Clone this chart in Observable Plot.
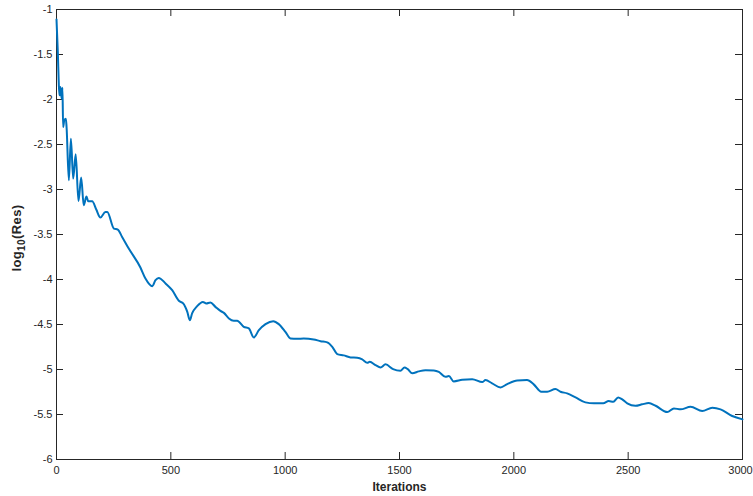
<!DOCTYPE html>
<html>
<head>
<meta charset="utf-8">
<script src="https://cdn.jsdelivr.net/npm/d3@7"></script>
<script src="https://cdn.jsdelivr.net/npm/@observablehq/plot@0.6"></script>
<style>
  html, body { margin: 0; padding: 0; background: #fff; }
  #chart svg { display: block; }
</style>
</head>
<body>
<div id="chart"></div>
<script>
// Residual history
const iterations = [0, 6, 10, 13, 17.5, 22, 26, 29, 34, 41, 44, 54, 63, 73, 84, 96, 108, 119, 131, 139, 156, 174, 192, 214, 222, 251, 268, 287, 316, 367, 389, 419, 433, 447, 477, 506, 535, 554, 572, 583, 593, 615, 640, 655, 673, 695, 717, 732, 754, 775, 790, 819, 841, 863, 885, 914, 948, 972, 1001, 1023, 1053, 1081, 1125, 1155, 1184, 1206, 1228, 1256, 1286, 1315, 1337, 1359, 1370, 1395, 1417, 1439, 1472, 1504, 1522, 1536, 1556, 1584, 1614, 1650, 1672, 1701, 1716, 1737, 1774, 1818, 1862, 1876, 1905, 1942, 1971, 2015, 2058, 2087, 2120, 2146, 2182, 2204, 2233, 2270, 2313, 2350, 2391, 2415, 2435, 2456, 2474, 2496, 2532, 2561, 2590, 2620, 2671, 2700, 2729, 2773, 2824, 2868, 2904, 2955, 3000];
const logRes = [-1.11, -1.49, -1.825, -1.954, -1.862, -1.988, -1.869, -2.306, -2.232, -2.213, -2.306, -2.898, -2.435, -2.879, -2.609, -3.128, -2.868, -3.175, -3.079, -3.131, -3.131, -3.223, -3.312, -3.25, -3.25, -3.434, -3.445, -3.527, -3.656, -3.867, -3.989, -4.074, -4.008, -3.982, -4.044, -4.119, -4.237, -4.266, -4.36, -4.452, -4.377, -4.296, -4.249, -4.266, -4.255, -4.304, -4.349, -4.371, -4.433, -4.459, -4.459, -4.526, -4.544, -4.644, -4.563, -4.496, -4.463, -4.496, -4.582, -4.655, -4.659, -4.655, -4.666, -4.685, -4.699, -4.748, -4.829, -4.843, -4.866, -4.87, -4.888, -4.926, -4.915, -4.951, -4.977, -4.943, -4.996, -5.014, -4.977, -4.996, -5.043, -5.021, -5.007, -5.01, -5.026, -5.081, -5.073, -5.132, -5.114, -5.107, -5.14, -5.118, -5.154, -5.199, -5.162, -5.121, -5.118, -5.165, -5.247, -5.247, -5.218, -5.247, -5.265, -5.31, -5.365, -5.376, -5.376, -5.351, -5.358, -5.31, -5.332, -5.376, -5.403, -5.387, -5.373, -5.403, -5.473, -5.432, -5.443, -5.414, -5.462, -5.425, -5.443, -5.517, -5.554];

const xTicks = [0, 500, 1000, 1500, 2000, 2500, 3000];
const yTicks = [-6, -5.5, -5, -4.5, -4, -3.5, -3, -2.5, -2, -1.5, -1];
const xLabel = "Iterations";

const data = iterations.map((x, i) => ({x, y: logRes[i]}));

const W = 753, H = 496;
const mT = 9, mB = 37, mL = 56, mR = 11;
const innerH = H - mT - mB, innerW = W - mL - mR;
const TICK = 7;
const axisColor = "#262626";
const font = "'Liberation Sans', Arial, Helvetica, sans-serif";

const plot = Plot.plot({
  width: W,
  height: H,
  marginTop: mT,
  marginBottom: mB,
  marginLeft: mL,
  marginRight: mR,
  style: {fontFamily: font, fontSize: "11px", color: axisColor, background: "#fff"},
  x: {domain: [0, 3000]},
  y: {domain: [-6, -1]},
  marks: [
    // inward ticks on all four sides
    Plot.gridX(xTicks, {stroke: axisColor, strokeOpacity: 1, insetTop: innerH - TICK}),
    Plot.gridX(xTicks, {stroke: axisColor, strokeOpacity: 1, insetBottom: innerH - TICK}),
    Plot.gridY(yTicks, {stroke: axisColor, strokeOpacity: 1, insetRight: innerW - TICK}),
    Plot.gridY(yTicks, {stroke: axisColor, strokeOpacity: 1, insetLeft: innerW - TICK}),
    Plot.axisX(xTicks.slice(0, -1), {tickSize: 0, tickPadding: 7, label: null, tickFormat: d => String(d), fill: axisColor}),
    Plot.axisX(xTicks.slice(-1), {tickSize: 0, tickPadding: 7, label: null, tickFormat: d => String(d), fill: axisColor, dx: -2}),
    Plot.axisY(yTicks, {tickSize: 0, tickPadding: 4, label: null, tickFormat: d => String(d), fill: axisColor}),
    Plot.frame({stroke: axisColor, strokeWidth: 1}),
    Plot.line(data, {x: "x", y: "y", stroke: "#0072BD", strokeWidth: 2, strokeLinejoin: "round", curve: "monotone-x"})
  ]
});

const svg = d3.select(plot);
svg.append("text")
  .attr("x", mL + innerW / 2 + 0.5)
  .attr("y", 491)
  .attr("text-anchor", "middle")
  .attr("font-family", font)
  .attr("font-size", 12)
  .attr("font-weight", "bold")
  .attr("fill", axisColor)
  .text(xLabel);

const yl = svg.append("text")
  .attr("transform", `translate(21,238) rotate(-90)`)
  .attr("text-anchor", "middle")
  .attr("font-family", font)
  .attr("font-size", 13)
  .attr("font-weight", "bold")
  .attr("letter-spacing", 0.4)
  .attr("fill", axisColor);
yl.append("tspan").text("log");
yl.append("tspan").attr("font-size", 10).attr("dy", 4).text("10");
yl.append("tspan").attr("dy", -4).text("(Res)");

document.getElementById("chart").appendChild(plot);
</script>
</body>
</html>
